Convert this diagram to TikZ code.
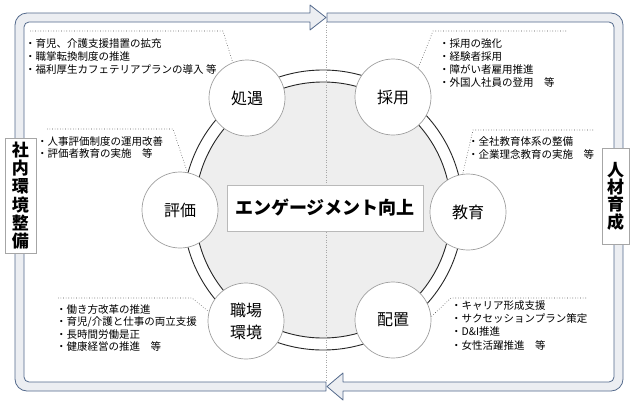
\documentclass[tikz,border=0pt]{standalone}
\usepackage{fontspec}
\setmainfont{Noto Sans CJK JP}
\definecolor{bandline}{RGB}{84,106,140}
\definecolor{bandfill}{RGB}{236,238,242}
\definecolor{ringfill}{RGB}{238,238,238}
\begin{document}
\begin{tikzpicture}[x=1pt,y=-1pt,
  band/.style={draw=bandline, fill=bandfill, line width=0.8pt, line join=round},
  sidebox/.style={draw=gray!70, fill=white, line width=0.6pt, inner sep=0pt, align=center,
    font=\bfseries\fontsize{17}{18.2}\selectfont},
  ringline/.style={draw=black!85, line width=0.9pt},
  item/.style={circle, draw=gray!75, fill=white, line width=0.7pt, minimum size=76pt, inner sep=0pt,
    align=center, font=\fontsize{16}{22}\selectfont},
  note/.style={anchor=north west, inner sep=0pt, align=left},
  callout/.style={draw=black!70, dotted, line width=0.6pt},
  centerdot/.style={draw=gray!70, dotted, line width=0.5pt},
  mainbox/.style={draw=gray!55, fill=white, line width=0.7pt, minimum width=196pt, minimum height=46pt,
    inner sep=0pt, font=\bfseries\fontsize{18}{20}\selectfont}
]
\useasboundingbox (0,0) rectangle (636,402);
\fill[white] (0,0) rectangle (636,402);

% frame arrows
\draw[band] (326,382) -- (29,382) arc[start angle=90,end angle=180,radius=5]
  -- (24,27) arc[start angle=180,end angle=270,radius=5]
  -- (310,22) -- (310,30) -- (326,17.5) -- (310,5) -- (310,13)
  -- (27,13) arc[start angle=270,end angle=180,radius=12]
  -- (15,379) arc[start angle=180,end angle=90,radius=12]
  -- (326,391) -- cycle;
\draw[band] (327,13) -- (611,13) arc[start angle=270,end angle=360,radius=12]
  -- (623,379) arc[start angle=0,end angle=90,radius=12]
  -- (343,391) -- (343,400) -- (327,386.5) -- (343,373) -- (343,382)
  -- (609,382) arc[start angle=90,end angle=0,radius=5]
  -- (614,27) arc[start angle=360,end angle=270,radius=5]
  -- (327,22) -- cycle;

% side labels
\node[sidebox, minimum width=31pt, minimum height=115pt] (naibu) at (20.5,195.5) {社\\内\\環\\境\\整\\備};
\node[sidebox, minimum width=27pt, minimum height=96pt, font=\bfseries\fontsize{17}{17.4}\selectfont] (jinzai) at (615.5,196) {人\\材\\育\\成};

% big ring
\node[circle, ringline, fill=white, minimum size=280pt, inner sep=0pt] (ringout) at (323,210) {};
\node[circle, ringline, fill=ringfill, minimum size=256pt, inner sep=0pt] (ringin) at (323,210) {};

% center dotted line
\coordinate (ctop) at (326,22);
\coordinate (cbot) at (326,382);
\draw[centerdot] (ctop) -- (cbot);

% center box
\node[mainbox] (engage) at (325,208) {エンゲージメント向上};

% item circles
\node[item] (shogu) at (247,98) {処遇};
\node[item] (saiyou) at (393,97) {採用};
\node[item] (hyouka) at (180,210) {評価};
\node[item] (kyouiku) at (468,212) {教育};
\node[item] (shokuba) at (246,321) {職場\\環境};
\node[item] (haichi) at (393,320) {配置};

% callout lines
\coordinate (c1a) at (30,31);   \coordinate (c1b) at (223,31);
\coordinate (c2a) at (433,31);  \coordinate (c2b) at (566,31);
\coordinate (c3a) at (47,129);  \coordinate (c3b) at (173,129);
\coordinate (c4a) at (473,130); \coordinate (c4b) at (593,130);
\coordinate (c5a) at (58,298);  \coordinate (c5b) at (192,298);
\coordinate (c6a) at (451,298); \coordinate (c6b) at (586,298);
\draw[callout] (c1a) -- (c1b) -- (shogu.112);
\draw[callout] (c2b) -- (c2a) -- (saiyou.49);
\draw[callout] (c3a) -- (c3b) -- (hyouka.79);
\draw[callout] (c4b) -- (c4a) -- (kyouiku.98);
\draw[callout] (c5a) -- (c5b) -- (shokuba.166);
\draw[callout] (c6b) -- (c6a) -- (haichi.5);

% notes
\node[note, font=\fontsize{10.5}{13}\selectfont] (n1) at (25,38.3) {・育児、介護支援措置の拡充\\・職掌転換制度の推進\\・福利厚生カフェテリアプランの導入 等};
\node[note, font=\fontsize{10.5}{13}\selectfont] (n2) at (439,38.3) {・採用の強化\\・経験者採用\\・障がい者雇用推進\\・外国人社員の登用　等};
\node[note, font=\fontsize{10.5}{12.5}\selectfont] (n3) at (37,136.3) {・人事評価制度の運用改善\\・評価者教育の実施　等};
\node[note, font=\fontsize{10.5}{13}\selectfont] (n4) at (468,136.3) {・全社教育体系の整備\\・企業理念教育の実施　等};
\node[note, font=\fontsize{10.5}{12.5}\selectfont] (n5) at (56,304.3) {・働き方改革の推進\\・育児/介護と仕事の両立支援\\・長時間労働是正\\・健康経営の推進　等};
\node[note, font=\fontsize{10.5}{13.3}\selectfont] (n6) at (451,300.3) {・キャリア形成支援\\・サクセッションプラン策定\\・D\&I推進\\・女性活躍推進　等};
\end{tikzpicture}
\end{document}
